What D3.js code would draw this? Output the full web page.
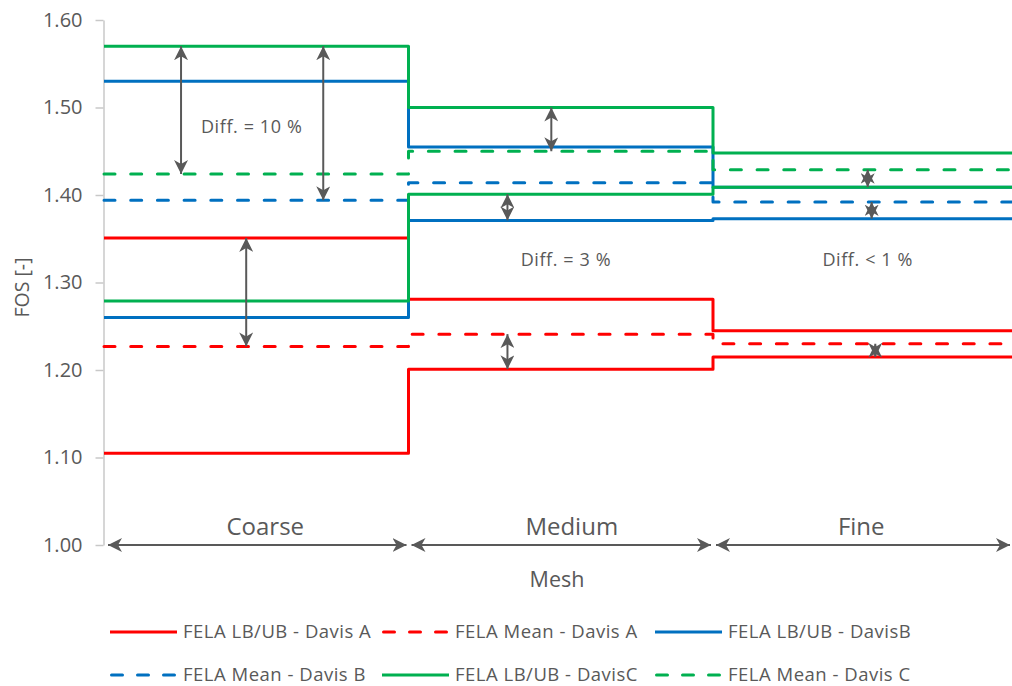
<!DOCTYPE html>
<html>
<head>
<meta charset="utf-8">
<script src="https://cdn.jsdelivr.net/npm/d3@7"></script>
<style>
  body { margin: 0; background: #fff; }
  svg { display: block; }
  text { font-family: "Open Sans", "Noto Sans", sans-serif; fill: #595959; }
</style>
</head>
<body>
<svg id="chart" width="1012" height="686"></svg>
<script>
// ---- data ----------------------------------------------------------
const meshes = ["Coarse", "Medium", "Fine"];
const yTicks = [1.0, 1.1, 1.2, 1.3, 1.4, 1.5, 1.6];

// Davis A
const lbA   = [1.105, 1.201, 1.215];
const ubA   = [1.351, 1.281, 1.245];
const meanA = [1.227, 1.241, 1.230];
// Davis B
const lbB   = [1.260, 1.371, 1.373];
const ubB   = [1.530, 1.455, 1.409];
const meanB = [1.394, 1.414, 1.392];
// Davis C
const lbC   = [1.279, 1.401, 1.409];
const ubC   = [1.570, 1.500, 1.448];
const meanC = [1.424, 1.450, 1.429];

const legendLabels = [
  "FELA LB/UB - Davis A", "FELA Mean - Davis A", "FELA LB/UB - DavisB",
  "FELA Mean - Davis B", "FELA LB/UB - DavisC", "FELA Mean - Davis C"
];

// difference arrows: mesh position (in mesh units) and the two FOS values joined
const diffArrows = [
  { at: 0.253, from: ubC[0], to: meanC[0] },
  { at: 0.720, from: ubC[0], to: meanB[0] },
  { at: 0.467, from: ubA[0], to: meanA[0] },
  { at: 1.469, from: ubC[1], to: meanC[1] },
  { at: 1.325, from: lbC[1], to: lbB[1] },
  { at: 1.325, from: meanA[1], to: lbA[1] },
  { at: 2.508, from: meanC[2], to: lbC[2] },
  { at: 2.521, from: meanB[2], to: lbB[2] },
  { at: 2.533, from: meanA[2], to: lbA[2] }
];
const diffLabels = [
  { text: "Diff. = 10 %", at: 0.485, fos: 1.471 },
  { text: "Diff. = 3 %",  at: 1.517, fos: 1.319 },
  { text: "Diff. < 1 %",  at: 2.508, fos: 1.319 }
];

// ---- styles --------------------------------------------------------
const RED = "#FF0000", BLUE = "#0070C0", GREEN = "#00B050", GREY = "#595959";
const DASH = "11,15.7";

const series = [
  { label: legendLabels[0], lines: [lbA, ubA], color: RED,   dashed: false },
  { label: legendLabels[1], lines: [meanA],    color: RED,   dashed: true  },
  { label: legendLabels[2], lines: [lbB, ubB], color: BLUE,  dashed: false },
  { label: legendLabels[3], lines: [meanB],    color: BLUE,  dashed: true  },
  { label: legendLabels[4], lines: [lbC, ubC], color: GREEN, dashed: false },
  { label: legendLabels[5], lines: [meanC],    color: GREEN, dashed: true  }
];

// ---- scales --------------------------------------------------------
const svg = d3.select("#chart");
const x = d3.scaleLinear().domain([0, 3]).range([104, 104 + 3 * 304.5]);
const y = d3.scaleLinear().domain([1.0, 1.6]).range([545, 20]);

// arrow head marker (notched)
const defs = svg.append("defs");
defs.append("marker")
  .attr("id", "head")
  .attr("viewBox", "0 -7 14 14")
  .attr("refX", 14).attr("refY", 0)
  .attr("markerWidth", 14).attr("markerHeight", 14)
  .attr("markerUnits", "userSpaceOnUse")
  .attr("orient", "auto-start-reverse")
  .append("path")
  .attr("d", "M0,-7 L14,0 L0,7 L4,0 Z")
  .attr("fill", GREY);

// ---- y axis --------------------------------------------------------
const yAxis = svg.append("g")
  .attr("transform", "translate(103.5,0)")
  .call(d3.axisLeft(y).tickValues(yTicks).tickFormat(d3.format(".2f"))
    .tickSize(8).tickSizeOuter(0).tickPadding(13));
yAxis.select(".domain").attr("stroke", "#c8c8c8").attr("stroke-width", 1.5);
yAxis.selectAll(".tick line").attr("stroke", "#c8c8c8").attr("stroke-width", 1.5);
yAxis.selectAll(".tick text")
  .attr("fill", GREY).style("font-size", "20px")
  .style("font-family", "'Open Sans', sans-serif");

svg.append("text")
  .attr("transform", `translate(29,${(y(1.0) + y(1.6)) / 2 + 5}) rotate(-90)`)
  .attr("text-anchor", "middle")
  .style("font-size", "19.5px")
  .text("FOS [-]");

// ---- step lines ----------------------------------------------------
const stepLine = d3.line().x(d => x(d[0])).y(d => y(d[1]));
const stepPoints = vals => vals.flatMap((v, i) => [[i, v], [i + 1, v]]);

series.forEach(s => {
  s.lines.forEach(vals => {
    svg.append("path")
      .attr("d", stepLine(stepPoints(vals)))
      .attr("fill", "none")
      .attr("stroke", s.color)
      .attr("stroke-width", 3)
      .attr("stroke-linejoin", "round")
      .attr("stroke-linecap", s.dashed ? "round" : "butt")
      .attr("stroke-dasharray", s.dashed ? DASH : null);
  });
});

// ---- difference arrows and labels ----------------------------------
svg.append("g").selectAll("line").data(diffArrows).join("line")
  .attr("x1", d => x(d.at)).attr("x2", d => x(d.at))
  .attr("y1", d => y(d.from)).attr("y2", d => y(d.to))
  .attr("stroke", GREY).attr("stroke-width", 2)
  .attr("marker-start", "url(#head)").attr("marker-end", "url(#head)");

svg.append("g").selectAll("text").data(diffLabels).join("text")
  .attr("x", d => x(d.at)).attr("y", d => y(d.fos))
  .attr("text-anchor", "middle")
  .style("font-size", "18px")
  .style("letter-spacing", "0.6px")
  .text(d => d.text);

// ---- mesh spans along the base ------------------------------------
const labelShift = [9, 11, -4];
const span = svg.append("g");
meshes.forEach((m, i) => {
  const x1 = x(i) + (i === 0 ? 4 : 3);
  const x2 = Math.min(x(i + 1), 1012) - 2;
  span.append("line")
    .attr("x1", x1).attr("x2", x2)
    .attr("y1", y(1.0)).attr("y2", y(1.0))
    .attr("stroke", GREY).attr("stroke-width", 2)
    .attr("marker-start", "url(#head)").attr("marker-end", "url(#head)");
  span.append("text")
    .attr("x", x(i + 0.5) + labelShift[i])
    .attr("y", 535)
    .attr("text-anchor", "middle")
    .style("font-size", "24px")
    .text(m);
});

svg.append("text")
  .attr("x", 557).attr("y", 587)
  .attr("text-anchor", "middle")
  .style("font-size", "21.5px")
  .text("Mesh");

// ---- legend --------------------------------------------------------
const legendCols = [110, 382, 655];
const legendRows = [632, 675];
const legend = svg.append("g");
series.forEach((s, i) => {
  const lx = legendCols[i % 3], ly = legendRows[Math.floor(i / 3)];
  legend.append("line")
    .attr("x1", lx + (s.dashed ? 1.5 : 0)).attr("x2", lx + 67)
    .attr("y1", ly).attr("y2", ly)
    .attr("stroke", s.color).attr("stroke-width", 3)
    .attr("stroke-linecap", s.dashed ? "round" : "butt")
    .attr("stroke-dasharray", s.dashed ? "11,15" : null);
  legend.append("text")
    .attr("x", lx + 73).attr("y", ly + 6)
    .style("font-size", "18.5px")
    .style("letter-spacing", "0.5px")
    .text(s.label);
});
</script>
</body>
</html>
